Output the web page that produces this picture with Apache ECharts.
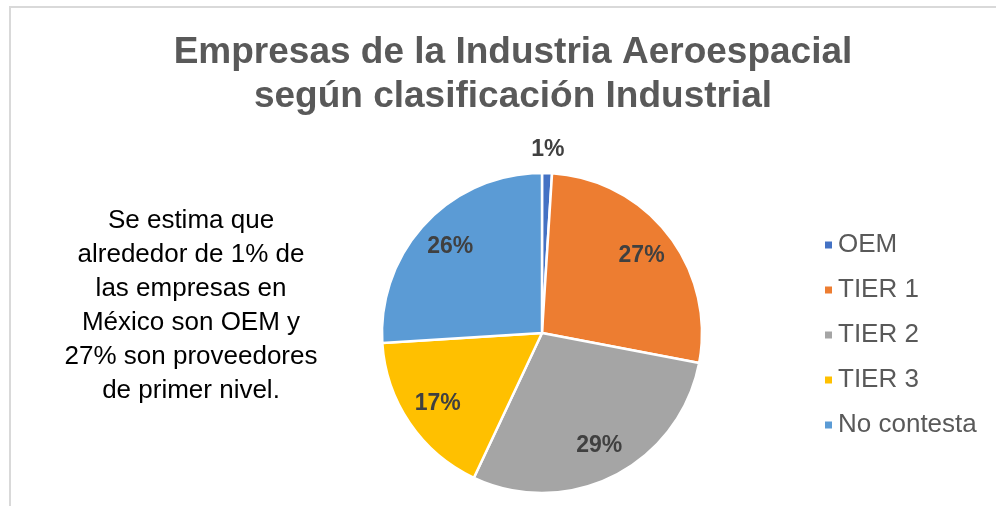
<!DOCTYPE html>
<html>
<head>
<meta charset="utf-8">
<script src="https://cdn.jsdelivr.net/npm/echarts@6/dist/echarts.min.js"></script>
<style>
  html, body { margin: 0; padding: 0; background: #fff; }
  #main { width: 996px; height: 506px; }
</style>
</head>
<body>
<div id="main"></div>
<script>
// datos
var categorias = ['OEM', 'TIER 1', 'TIER 2', 'TIER 3', 'No contesta']
var valores = [1, 27, 29, 17, 26]
var colores = ['#4472C4', '#ED7D31', '#A5A5A5', '#FFC000', '#5B9BD5']
var titulo = 'Empresas de la Industria Aeroespacial\nsegún clasificación Industrial'
var nota = 'Se estima que\nalrededor de 1% de\nlas empresas en\nMéxico son OEM y\n27% son proveedores\nde primer nivel.'

var fuente = '"Liberation Sans", Arial, Helvetica, sans-serif'
var centro = [542, 333]

var myChart = echarts.init(document.getElementById('main'))

// serie visible
var dataPie = []
for (var i = 0; i < categorias.length; i++) {
  dataPie.push({ name: categorias[i], value: valores[i], itemStyle: { color: colores[i] } })
}
// etiquetas interiores (todas menos OEM)
var dataLabels = []
// etiqueta exterior de OEM
var dataFuera = []
for (var j = 0; j < categorias.length; j++) {
  dataLabels.push({ name: categorias[j], value: valores[j], label: { show: j !== 0 } })
  dataFuera.push({ name: categorias[j], value: valores[j], label: { show: j === 0 } })
}

var etiqueta = {
  position: 'inside',
  color: '#404040',
  fontSize: 23,
  fontWeight: 'bold',
  fontFamily: fuente,
  formatter: function(p) {
    return Math.round(p.percent) + '%'
  }
}

var option = {
  animation: false,
  backgroundColor: '#ffffff',
  textStyle: { fontFamily: fuente },
  title: {
    text: titulo,
    left: 508,
    top: 26,
    textAlign: 'center',
    textStyle: {
      color: '#595959',
      fontSize: 37,
      fontWeight: 'bold',
      lineHeight: 44,
      fontFamily: fuente
    }
  },
  legend: {
    orient: 'vertical',
    left: 818,
    top: 227,
    icon: 'rect',
    itemWidth: 9,
    itemHeight: 9,
    itemGap: 19,
    data: categorias,
    textStyle: {
      color: '#595959',
      fontSize: 26,
      lineHeight: 26,
      fontFamily: fuente
    }
  },
  graphic: [
    {
      type: 'rect',
      shape: { x: 10, y: 7, width: 1100, height: 600 },
      style: { fill: 'none', stroke: '#d9d9d9', lineWidth: 2 },
      silent: true
    },
    {
      type: 'text',
      x: 191,
      y: 204,
      style: {
        text: nota,
        fill: '#000000',
        font: '26px ' + fuente,
        lineHeight: 34,
        align: 'center',
        textAlign: 'center'
      }
    }
  ],
  series: [
    {
      type: 'pie',
      center: centro,
      radius: [0, 160],
      startAngle: 90,
      label: { show: false },
      labelLine: { show: false },
      itemStyle: { borderColor: '#ffffff', borderWidth: 2.5 },
      emphasis: { disabled: true },
      data: dataPie
    },
    {
      type: 'pie',
      center: centro,
      radius: [86, 160],
      startAngle: 90,
      silent: true,
      itemStyle: { color: 'transparent', borderWidth: 0 },
      label: etiqueta,
      labelLine: { show: false },
      data: dataLabels
    },
    {
      type: 'pie',
      center: centro,
      radius: [170, 190],
      startAngle: 90,
      silent: true,
      itemStyle: { color: 'transparent', borderWidth: 0 },
      label: etiqueta,
      labelLine: { show: false },
      data: dataFuera
    }
  ]
}

myChart.setOption(option)
window.addEventListener('resize', function() {
  myChart.resize()
})
</script>
</body>
</html>
